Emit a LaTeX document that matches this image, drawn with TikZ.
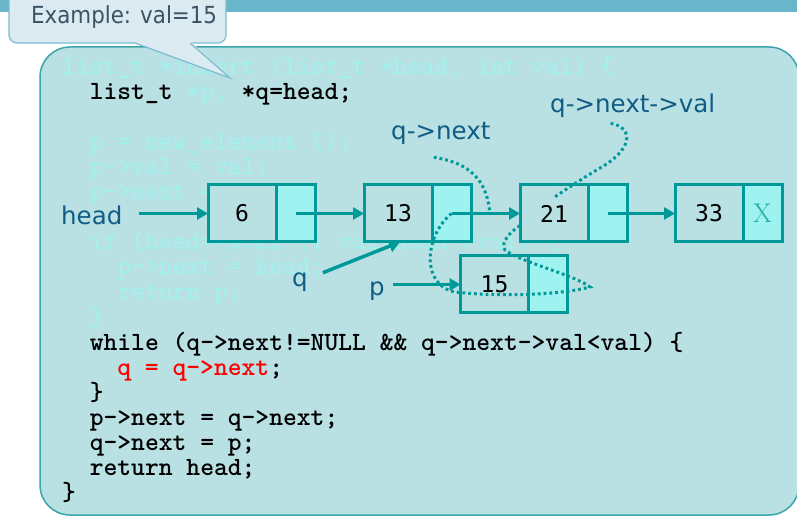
\documentclass[tikz,border=0pt]{standalone}
\usepackage{fontspec}
\usetikzlibrary{positioning,arrows.meta}
\newfontfamily\lblfont{DejaVu Sans}
\newfontfamily\cellfont{DejaVu Sans Mono}
\newfontfamily\notefont{DejaVu Sans}[FakeStretch=0.91]
\definecolor{boxfill}{HTML}{B9E0E3}
\definecolor{boxline}{HTML}{3AA5AA}
\definecolor{ptrfill}{HTML}{9EF2EF}
\definecolor{linkteal}{HTML}{009999}
\definecolor{faded}{HTML}{A3F0EC}
\definecolor{codered}{HTML}{FF0000}
\definecolor{lblblue}{HTML}{105C85}
\definecolor{notefill}{HTML}{DCEBF2}
\definecolor{noteline}{HTML}{78BCD0}
\definecolor{notetext}{HTML}{3B5366}
\definecolor{topbar}{HTML}{69B5CA}
\tikzset{
  valcell/.style={draw=linkteal, line width=3pt, fill=boxfill, minimum width=68pt,
    minimum height=57pt, outer sep=0pt, inner sep=0pt,
    font=\cellfont\fontsize{23}{23}\selectfont},
  ptrcell/.style={valcell, fill=ptrfill, minimum width=39pt},
  link/.style={draw=linkteal, line width=3.5pt, -{Triangle[length=11pt,width=12pt]}},
  trail/.style={draw=linkteal, line width=3pt, dash pattern=on 2.8pt off 3pt},
  lbl/.style={text=lblblue, inner sep=0pt, anchor=base west,
    font=\lblfont\fontsize{24.5}{29}\selectfont},
  codeline/.style={inner sep=0pt, anchor=base west,
    font=\ttfamily\bfseries\fontsize{26.3}{25}\selectfont}
}
\begin{document}
\begin{tikzpicture}[x=1pt,y=-1pt]
  \useasboundingbox (0,0) rectangle (797,526);
  \fill[white] (0,0) rectangle (797,526);
  \fill[topbar] (0,0) rectangle (797,12);
  % code panel
  \draw[boxline, fill=boxfill, line width=1.5pt, rounded corners=30pt] (40,47) rectangle (799,515);
  \foreach \codeRow/\codeInd/\codeTxt in {
      1/0/{\color{faded}list\_t *insert (list\_t *head, int val) \{},
      2/2/{list\_t \textcolor{faded}{*p,} *q=head;},
      4/2/{\color{faded}p = new\_element ();},
      5/2/{\color{faded}p->val = val;},
      6/2/{\color{faded}p->next = NULL;},
      8/2/{\color{faded}if (head==NULL || val<head->val) \{},
      9/4/{\color{faded}p->next = head;},
      10/4/{\color{faded}return p;},
      11/2/{\color{faded}\}},
      12/2/{while (q->next!=NULL \&\& q->next->val<val) \{},
      13/4/{\textcolor{codered}{q = q->next};},
      14/2/{\}},
      15/2/{p->next = q->next;},
      16/2/{q->next = p;},
      17/2/{return head;},
      18/0/{\}}}
    \node[codeline] (code\codeRow) at ({62+13.8*\codeInd},{75+25*(\codeRow-1)}) {\codeTxt};
  % callout
  \draw[noteline, fill=notefill, line width=1.2pt, rounded corners=8pt] (9,-10) rectangle (226,43);
  \fill[notefill] (134,42) -- (230,78) -- (191,42) -- cycle;
  \draw[noteline, line width=1.2pt] (135,43) -- (230,78) -- (190,43);
  \node[inner sep=0pt, anchor=base west, text=notetext,
    font=\notefont\fontsize{23.5}{23.5}\selectfont] (note) at (31,24) {Example: val=15};
  % list elements
  \node[valcell] (n6) at (242,213.5) {6};
  \node[ptrcell, right=0pt of n6] (n6p) {};
  \node[valcell, right=49pt of n6p] (n13) {13};
  \node[ptrcell, right=0pt of n13] (n13p) {};
  \node[valcell, right=49pt of n13p] (n21) {21};
  \node[ptrcell, right=0pt of n21] (n21p) {};
  \node[valcell, right=48pt of n21p] (n33) {33};
  \node[ptrcell, right=0pt of n33, text=linkteal!85!white,
    font=\rmfamily\fontsize{27}{27}\selectfont] (n33p) {X};
  \node[valcell] (n15) at (494.5,284.5) {15};
  \node[ptrcell, right=0pt of n15] (n15p) {};
  % labels
  \node[lbl] (head) at (61,225) {head};
  \node[lbl] (qlbl) at (292,287) {q};
  \node[lbl] (plbl) at (369,295) {p};
  \node[lbl] (qnext) at (391,140) {q->next};
  \node[lbl] (qnextval) at (550,113) {q->next->val};
  % links
  \draw[link] (head.east |- n6.west) ++(16pt,0) -- (n6.west);
  \draw[link] (n6p.center) -- (n13.west);
  \draw[link] (n13p.center) -- (n21.west) coordinate[pos=0.56] (nextptr);
  \draw[link] (n21p.center) -- (n33.west);
  \draw[link] ([xshift=15pt,yshift=10pt]qlbl.east) -- ([xshift=2pt]n13.south);
  \draw[link] (plbl.east |- n15.west) ++(8pt,0) -- (n15.west);
  % dotted hints
  \draw[trail] ([xshift=-7pt,yshift=-12pt]qnext.south) .. controls (470,163) and (487,180) .. (nextptr);
  \draw[trail] ([xshift=-22pt,yshift=-5pt]qnextval.south) .. controls (635,128) and (632,150) .. (600,168)
    .. controls (580,180) and (565,190) .. ([yshift=16pt]n21.center);
  \draw[trail] (n13p.center) .. controls (425,235) and (420,285) .. (455,292)
    .. controls (500,297) and (560,295) .. (590,287)
    .. controls (575,275) and (520,262) .. (505,250)
    .. controls (500,243) and (510,232) .. ([yshift=-12pt]n21.west);
\end{tikzpicture}
\end{document}
